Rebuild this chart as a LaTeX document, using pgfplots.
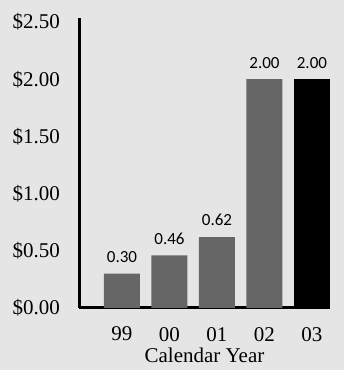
\documentclass[border=0pt]{standalone}
\usepackage{fontspec}
\setmainfont{Liberation Serif}
\newfontfamily\valfont{Carlito}
\usepackage{pgfplots}
\pgfplotsset{compat=1.18}

\pgfplotstableread{
x  y
0  0.30
1  0.46
2  0.62
3  2.00
}\graybars
\pgfplotstableread{
x  y
4  2.00
}\blackbar

\begin{document}
\begin{tikzpicture}
  % page frame with a light tint
  \path[use as bounding box, fill=black!10] (0pt,0pt) rectangle (172pt,185pt);
  \begin{axis}[
    at={(39.5pt,31pt)}, anchor=south west,
    scale only axis,
    width=125.5pt, height=145pt,
    xmin=-0.905, xmax=4.38,
    ymin=0, ymax=2.535,
    axis x line=bottom, axis y line=left,
    axis line style={-, line width=1.5pt, black},
    /pgf/number format/assume math mode=true,
    xtick={0,1,2,3,4},
    xticklabels={99,00,01,02,03},
    ytick={0,0.5,1,1.5,2,2.5},
    yticklabels={\$0.00,\$0.50,\$1.00,\$1.50,\$2.00,\$2.50},
    major tick length=0pt,
    tick label style={font=\fontsize{10.5}{11}\selectfont},
    yticklabel style={anchor=east, xshift=-6pt},
    xticklabel style={anchor=north, yshift=-6pt},
    xlabel={Calendar Year},
    xlabel style={font=\fontsize{10.5}{11}\selectfont, yshift=3.5pt},
    ybar, bar width=18pt, bar shift=0pt,
    nodes near coords,
    nodes near coords style={font=\valfont\fontsize{8.5}{9}\selectfont, yshift=2pt,
      /pgf/number format/.cd, fixed, fixed zerofill, precision=2, assume math mode=true},
    clip=false,
  ]
    \addplot[fill=black!60, draw=none] table[x=x,y=y] {\graybars};
    \addplot[fill=black, draw=none] table[x=x,y=y] {\blackbar};
  \end{axis}
\end{tikzpicture}
\end{document}
